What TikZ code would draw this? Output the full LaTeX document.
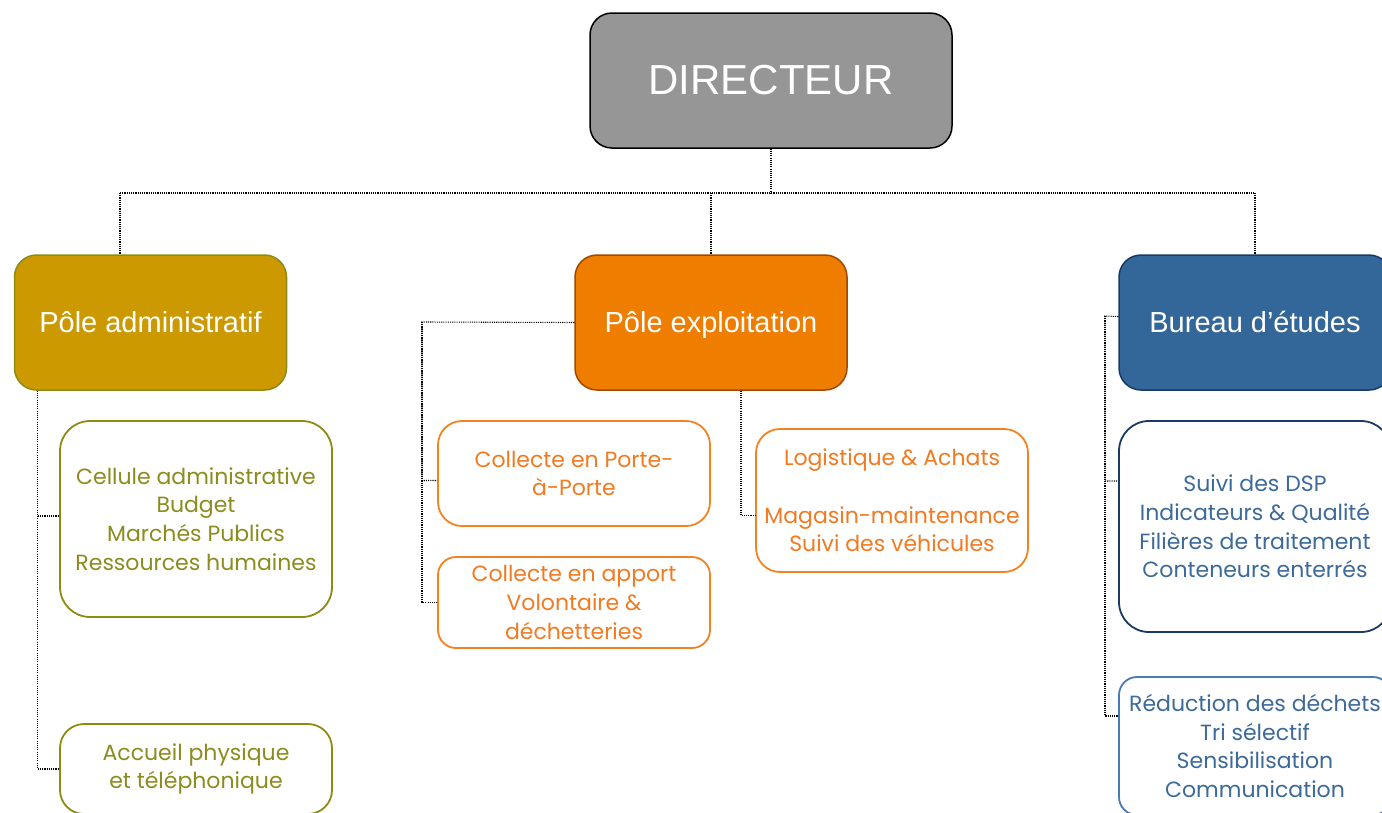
\documentclass[tikz,border=0pt]{standalone}
\usepackage{fontspec}
\setmainfont{Liberation Sans}
\newfontfamily\subfont{Poppins}
\definecolor{dirgray}{RGB}{150,150,150}
\definecolor{admfill}{RGB}{204,153,0}
\definecolor{admline}{RGB}{140,140,20}
\definecolor{admtext}{RGB}{140,140,30}
\definecolor{expfill}{RGB}{239,125,0}
\definecolor{expline}{RGB}{160,74,0}
\definecolor{orline}{RGB}{245,130,32}
\definecolor{ortext}{RGB}{242,122,33}
\definecolor{burfill}{RGB}{51,102,153}
\definecolor{burline}{RGB}{27,58,99}
\definecolor{bltext}{RGB}{60,106,154}
\definecolor{bline2}{RGB}{74,122,181}
\newcommand{\hstrut}{\vphantom{Ôp}}
\tikzset{
  head/.style={draw, line width=1.5pt, rounded corners=22pt, text=white, align=center,
    minimum width=272pt, minimum height=135pt, inner sep=0pt,
    font=\fontsize{29}{34}\selectfont},
  subbox/.style={draw, line width=1.8pt, rounded corners=24pt, fill=white, align=center,
    inner sep=0pt, minimum width=272pt,
    font=\subfont\fontsize{22}{28.8}\selectfont},
  conn/.style={line width=1.1pt, dash pattern=on 1.1pt off 1.1pt}
}
\begin{document}
\begin{tikzpicture}[x=1pt,y=-1pt]
\useasboundingbox (0,0) rectangle (1382,812);
% main boxes
\node[head, fill=dirgray, draw=black, minimum width=362pt, minimum height=135pt,
  font=\fontsize{42}{48}\selectfont] (dir) at (771,80.5) {\hstrut DIRECTEUR};
\node[head, fill=admfill, draw=admline] (adm) at (150.5,322.5) {\hstrut Pôle administratif};
\node[head, fill=expfill, draw=expline] (exp) at (711,322.5) {\hstrut Pôle exploitation};
\node[head, fill=burfill, draw=burline] (bur) at (1255,322.5) {\hstrut Bureau d’études};
% admin subs
\node[subbox, draw=admline, text=admtext, minimum height=196pt, rounded corners=30pt] (a1) at (196,519)
  {Cellule administrative\\Budget\\Marchés Publics\\Ressources humaines};
\node[subbox, draw=admline, text=admtext, minimum height=90pt] (a2) at (196,769)
  {Accueil physique\\et téléphonique};
% exploitation subs
\node[subbox, draw=orline, text=ortext, minimum height=105pt] (e1) at (574,473.5)
  {Collecte en Porte-\\à-Porte};
\node[subbox, draw=orline, text=ortext, minimum height=91pt, rounded corners=18pt] (e2) at (574,602.5)
  {Collecte en apport\\Volontaire \&\\déchetteries};
\node[subbox, draw=orline, text=ortext, minimum height=143pt] (e3) at (892,500.5)
  {Logistique \& Achats\\[28.8pt]Magasin-maintenance\\Suivi des véhicules};
% bureau subs
\node[subbox, draw=burline, text=bltext, minimum height=211pt, rounded corners=30pt] (b1) at (1255,526.5)
  {Suivi des DSP\\Indicateurs \& Qualité\\Filières de traitement\\Conteneurs enterrés};
\node[subbox, draw=bline2, text=bltext, minimum height=138pt, rounded corners=18pt] (b2) at (1255,746)
  {Réduction des déchets\\Tri sélectif\\Sensibilisation\\Communication};
% connectors
\coordinate (bus) at (771,193);
\coordinate (busL) at (120,193);
\coordinate (busR) at (1255,193);
\draw[conn] (dir.south) -- (bus);
\draw[conn] (busL) -- (busR);
\draw[conn] (busL) -- (busL |- adm.north);
\draw[conn] (exp.north |- bus) -- (exp.north);
\draw[conn] (busR) -- (bur.north);
% admin tree
\coordinate (admT) at ([xshift=24pt]adm.south west);
\draw[conn] (admT) |- ([yshift=3pt]a1.west);
\draw[conn] (admT) |- (a2.west);
% exploitation left tree
\coordinate (eL) at (422,322);
\draw[conn] (exp.west) -- (eL) |- ([yshift=-7pt]e1.west);
\draw[conn] (eL) |- (e2.west);
% exploitation right
\draw[conn] ([xshift=30pt]exp.south) |- ([yshift=-15pt]e3.west);
% bureau tree
\coordinate (bL) at (1105,316);
\draw[conn] ([yshift=6pt]bur.west) -- (bL) |- ([yshift=45.5pt]b1.west);
\draw[conn] (bL) |- ([yshift=30pt]b2.west);
\end{tikzpicture}
\end{document}
